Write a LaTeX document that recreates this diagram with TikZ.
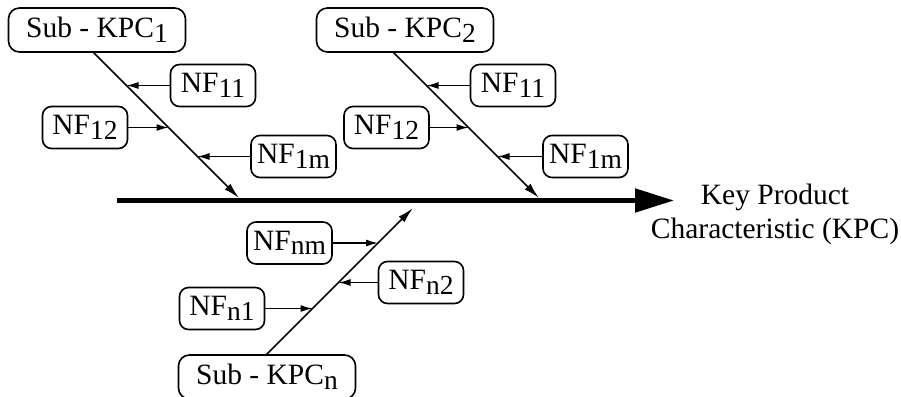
\documentclass[tikz,border=0pt]{standalone}
\usepackage{fontspec}
\setmainfont{Liberation Serif}
\usetikzlibrary{arrows.meta}
\newcommand{\lowsub}[1]{\raisebox{-4.5pt}{\fontsize{27.5}{28}\selectfont #1}}
\tikzset{
  fbox/.style={draw, rounded corners=9pt, line width=1.6pt, inner sep=0pt,
    minimum width=85pt, minimum height=42pt, font=\fontsize{29.5}{32}\selectfont},
  subbox/.style={fbox, rounded corners=11pt, minimum width=177pt, minimum height=44pt},
  diag/.style={line width=1.7pt, -{Latex[length=16pt,width=8pt]}},
  feed/.style={line width=1.3pt, -{Latex[length=12pt,width=7pt]}},
  spine/.style={line width=5pt, -{Triangle[length=39pt,width=23pt]}},
  lbl/.style={align=center, inner sep=0pt, font=\fontsize{29.5}{34}\selectfont}
}
\begin{document}
\begin{tikzpicture}[x=1pt,y=-1pt]
\useasboundingbox (0,0) rectangle (901,396);
% spine
\coordinate (m0) at (117,200.5);
\node[lbl] (kpc) at (775,214) {Key Product\\Characteristic (KPC)};
\coordinate (m1) at (674,200.5);
\draw[spine] (m0) -- (m1);
% group 1
\node[subbox] (sub1) at (97,30) {Sub - KPC\lowsub{1}};
\node[fbox] (nf11a) at (213,85.5) {NF\lowsub{11}};
\node[fbox] (nf12a) at (85,127.5) {NF\lowsub{12}};
\node[fbox] (nf1ma) at (293.5,156.5) {NF\lowsub{1m}};
\coordinate (s1) at (93,52);
\coordinate (t1) at (239,198);
\coordinate (h11a) at ([xshift=-200pt]nf11a.west);
\coordinate (h12a) at ([xshift=200pt]nf12a.east);
\coordinate (h1ma) at ([xshift=-200pt]nf1ma.west);
\draw[diag] (s1) -- (t1);
\draw[feed] (nf11a.west) -- (intersection of nf11a.west--h11a and s1--t1);
\draw[feed] (nf12a.east) -- (intersection of nf12a.east--h12a and s1--t1);
\draw[feed] (nf1ma.west) -- (intersection of nf1ma.west--h1ma and s1--t1);
% group 2
\node[subbox] (sub2) at (405,30) {Sub - KPC\lowsub{2}};
\node[fbox] (nf11b) at (513,85.5) {NF\lowsub{11}};
\node[fbox] (nf12b) at (386.5,127.5) {NF\lowsub{12}};
\node[fbox] (nf1mb) at (585.5,156.5) {NF\lowsub{1m}};
\coordinate (s2) at (393,52);
\coordinate (t2) at (539,198);
\coordinate (h11b) at ([xshift=-200pt]nf11b.west);
\coordinate (h12b) at ([xshift=200pt]nf12b.east);
\coordinate (h1mb) at ([xshift=-200pt]nf1mb.west);
\draw[diag] (s2) -- (t2);
\draw[feed] (nf11b.west) -- (intersection of nf11b.west--h11b and s2--t2);
\draw[feed] (nf12b.east) -- (intersection of nf12b.east--h12b and s2--t2);
\draw[feed] (nf1mb.west) -- (intersection of nf1mb.west--h1mb and s2--t2);
% group n
\node[subbox] (subn) at (267,377) {Sub - KPC\lowsub{n}};
\node[fbox] (nfnm) at (289.5,243) {NF\lowsub{nm}};
\node[fbox] (nfn2) at (421,282.5) {NF\lowsub{n2}};
\node[fbox] (nfn1) at (222,308.5) {NF\lowsub{n1}};
\coordinate (sn) at (266,355);
\coordinate (tn) at (413,208);
\coordinate (hnm) at ([xshift=200pt]nfnm.east);
\coordinate (hn2) at ([xshift=-200pt]nfn2.west);
\coordinate (hn1) at ([xshift=200pt]nfn1.east);
\draw[diag] (sn) -- (tn);
\draw[feed] (nfnm.east) -- (intersection of nfnm.east--hnm and sn--tn);
\draw[feed] (nfn2.west) -- (intersection of nfn2.west--hn2 and sn--tn);
\draw[feed] (nfn1.east) -- (intersection of nfn1.east--hn1 and sn--tn);
\end{tikzpicture}
\end{document}
